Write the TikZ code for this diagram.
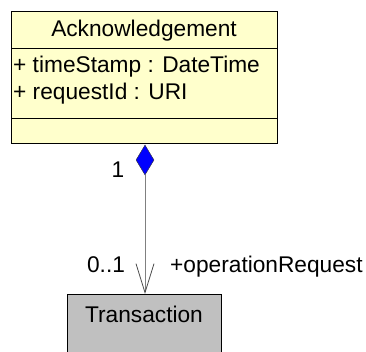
\documentclass[tikz,border=0pt]{standalone}
\usepackage{fontspec}
\setmainfont{Liberation Sans}
\usetikzlibrary{shapes.geometric,arrows.meta}
\definecolor{classyellow}{RGB}{255,255,204}
\definecolor{classgray}{RGB}{192,192,192}
\definecolor{linkgray}{RGB}{128,128,128}
\begin{document}
\begin{tikzpicture}[x=1pt,y=-1pt,
  umltext/.style={font=\fontsize{22.7}{27}\selectfont,inner sep=0pt},
  classbox/.style={draw,line width=1pt,inner sep=0pt}]
\useasboundingbox (0,0) rectangle (366,352);
\clip (0,0) rectangle (366,352);

% class Acknowledgement
\node[classbox,fill=classyellow,minimum width=266,minimum height=132,anchor=north west] (ack) at (11,11) {};
\draw[line width=0.8pt] (11,48) -- (277,48);
\draw[line width=0.8pt] (11,118) -- (277,118);
\node[umltext,anchor=base] (acktitle) at (144,37) {Acknowledgement};
\foreach \attr/\y in {{+ timeStamp : DateTime}/73,{+ requestId : URI}/100}
  \node[umltext,anchor=base west] at (13,\y) {\attr};

% class Transaction
\node[classbox,fill=classgray,minimum width=154,minimum height=70,anchor=north,
      umltext,text height=16pt,text depth=30pt] (trans) at (144,294) {Transaction};

% composition
\node[diamond,draw=black!80,fill=blue,minimum width=18,minimum height=30,inner sep=0pt] (agg) at (145,160) {};
\draw[linkgray,line width=0.8pt,-{Straight Barb[length=29pt,width=18pt,line width=0.8pt,black!70]}]
  (agg.south) -- (agg.south |- trans.north);
\node[umltext,anchor=base] (multa) at (118,178) {1};
\node[umltext,anchor=base] (multb) at (106,272) {0..1};
\node[umltext,anchor=base west] (role) at (170,272) {+operationRequest};
\end{tikzpicture}
\end{document}
